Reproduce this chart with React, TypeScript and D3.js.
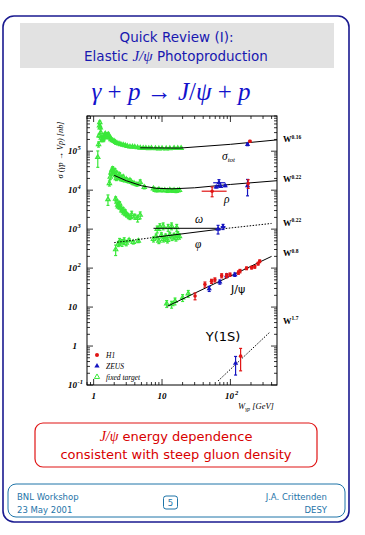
import React from 'react';
import * as d3 from 'd3';

// fixed target data: [W (GeV), sigma (nb), relative error]
const ftSigTot: [number, number, number][] = [
  [1.15, 7e4, 0.45], [1.18, 1.5e5, 0.15], [1.2, 2.5e5, 0.1], [1.22, 4.5e5, 0.08], [1.23, 5.5e5, 0.08],
  [1.25, 4.0e5, 0.08], [1.27, 3.0e5, 0.08], [1.3, 2.2e5, 0.08], [1.33, 1.9e5, 0.08], [1.36, 2.0e5, 0.08],
  [1.4, 2.2e5, 0.08], [1.44, 2.6e5, 0.08], [1.48, 2.8e5, 0.08], [1.52, 2.5e5, 0.08], [1.56, 2.3e5, 0.08],
  [1.6, 2.6e5, 0.08], [1.65, 2.7e5, 0.08], [1.7, 2.3e5, 0.08], [1.75, 2.2e5, 0.08], [1.8, 2.0e5, 0.08],
  [1.9, 1.9e5, 0.06], [2.0, 1.8e5, 0.06], [2.1, 1.7e5, 0.06], [2.2, 1.6e5, 0.06], [2.35, 1.55e5, 0.06],
  [2.5, 1.5e5, 0.06], [2.7, 1.45e5, 0.06], [2.9, 1.4e5, 0.06], [3.1, 1.35e5, 0.06], [3.4, 1.3e5, 0.06],
  [3.7, 1.3e5, 0.05], [4.0, 1.28e5, 0.05], [4.4, 1.25e5, 0.05], [4.8, 1.22e5, 0.05], [5.3, 1.2e5, 0.05],
  [5.8, 1.2e5, 0.05], [6.4, 1.18e5, 0.05], [7.0, 1.2e5, 0.05], [8, 1.18e5, 0.05], [9, 1.17e5, 0.05],
  [10, 1.18e5, 0.05], [11.5, 1.17e5, 0.05], [13, 1.18e5, 0.05], [15, 1.2e5, 0.05], [17, 1.19e5, 0.05],
  [19, 1.2e5, 0.05],
];

const ftRho: [number, number, number][] = [
  [1.62, 5.8e3, 0.3], [1.7, 1.5e4, 0.15], [1.75, 2.2e4, 0.15], [1.8, 2.8e4, 0.15], [1.85, 3.2e4, 0.15],
  [1.9, 3.5e4, 0.15], [1.95, 3.0e4, 0.12], [2.0, 2.6e4, 0.12], [2.05, 3.2e4, 0.12], [2.1, 2.4e4, 0.12],
  [2.15, 2.0e4, 0.12], [2.2, 2.7e4, 0.12], [2.3, 2.2e4, 0.12], [2.4, 2.5e4, 0.12], [2.5, 2.0e4, 0.12],
  [2.6, 1.9e4, 0.1], [2.7, 2.2e4, 0.1], [2.8, 1.8e4, 0.1], [3.0, 1.9e4, 0.1], [3.2, 1.7e4, 0.1],
  [3.4, 1.8e4, 0.1], [3.6, 1.6e4, 0.1], [3.9, 1.5e4, 0.1], [4.3, 1.4e4, 0.1], [4.8, 1.6e4, 0.15],
  [5.5, 1.2e4, 0.1], [7.5, 1.1e4, 0.08], [8.0, 1.0e4, 0.08], [8.5, 9.8e3, 0.08], [9, 1.05e4, 0.08],
  [10, 9.8e3, 0.08], [11, 1.0e4, 0.08], [12, 9.5e3, 0.08], [13, 1.02e4, 0.08], [14, 9.6e3, 0.08],
  [15, 1.0e4, 0.08], [16, 9.4e3, 0.08], [17, 9.8e3, 0.08], [18, 1.0e4, 0.08],
];

const ftOmega: [number, number, number][] = [
  [2.1, 6.0e3, 0.12], [2.2, 5.0e3, 0.12], [2.25, 4.2e3, 0.12], [2.3, 3.8e3, 0.12], [2.4, 4.5e3, 0.12],
  [2.5, 3.5e3, 0.12], [2.6, 3.0e3, 0.12], [2.7, 3.2e3, 0.12], [2.8, 2.6e3, 0.12], [2.9, 2.8e3, 0.12],
  [3.0, 2.4e3, 0.12], [3.2, 2.2e3, 0.12], [3.4, 2.0e3, 0.12], [3.6, 2.4e3, 0.2], [4.0, 2.1e3, 0.15],
  [4.4, 1.9e3, 0.2], [4.8, 2.3e3, 0.2],
  [8.5, 1.0e3, 0.2], [9.3, 1.15e3, 0.2], [10.4, 1.2e3, 0.2], [12.3, 1.1e3, 0.2], [13.8, 1.2e3, 0.2],
  [16.4, 1.1e3, 0.2],
];

const ftPhi: [number, number, number][] = [
  [2.1, 3.0e2, 0.3], [2.3, 4.2e2, 0.15], [2.4, 4.8e2, 0.2], [2.6, 4.5e2, 0.2], [2.8, 5.0e2, 0.2],
  [3.0, 4.4e2, 0.15], [3.3, 5.2e2, 0.1], [3.8, 4.6e2, 0.1], [4.5, 5.0e2, 0.1],
  [7.5, 5.5e2, 0.15], [8.2, 6.5e2, 0.15], [9, 5.0e2, 0.15], [9.8, 7.0e2, 0.15], [10.5, 5.5e2, 0.15],
  [11.3, 6.5e2, 0.15], [12, 5.2e2, 0.15], [13, 7.2e2, 0.15], [14, 6.0e2, 0.15], [15, 6.8e2, 0.15],
  [16, 5.8e2, 0.15], [17, 7.5e2, 0.15], [18, 6.5e2, 0.15],
];

const ftJpsi: [number, number, number][] = [
  [11.7, 12.2, 0.2], [13.8, 11.7, 0.2], [15.5, 14.2, 0.2], [20.0, 17.4, 0.2], [24.2, 22.2, 0.2],
];

// collider data: [W, sigma, relative error, Wlow?, Whigh?]
const h1Points: number[][] = [
  [193, 1.8e5, 0.05],
  [54, 9.4e3, 0.28, 38, 88], [182, 1.48e4, 0.25],
  [30.4, 19.2, 0.2], [42.4, 38.2, 0.15], [52.9, 46, 0.12], [59.3, 50, 0.12], [74.5, 64, 0.12],
  [88, 64, 0.12], [98.5, 68, 0.1], [131, 77, 0.1], [138, 84, 0.1], [172, 99, 0.08],
  [204, 103, 0.08], [227, 108, 0.08], [254, 130, 0.08], [268, 150, 0.08],
  [141, 0.55, 0.58],
];

const zeusPoints: number[][] = [
  [178, 1.49e5, 0.07],
  [68, 1.55e4, 0.2, 56, 84], [62, 1.2e4, 0.05], [72, 1.25e4, 0.05], [84, 1.3e4, 0.05], [178, 1.3e4, 0.45],
  [78, 1.15e3, 0.15, 72, 85], [66, 1.0e3, 0.25, 60, 74],
  [49, 29.6, 0.15], [70, 44, 0.12], [88, 64, 0.1], [116, 68, 0.1],
  [119, 0.36, 0.5],
];

// fit curves
const fitSigTot: [number, number][] = [[4.8, 1.22e5], [18, 1.2e5], [100, 1.5e5], [480, 1.95e5]];
const fitRho: [number, number][] = [[2, 2.4e4], [3, 1.75e4], [5, 1.3e4], [8, 1.12e4], [14, 1.08e4], [30, 1.15e4], [100, 1.4e4], [480, 1.75e4]];
const fitOmega: [number, number][] = [[7.5, 1.05e3], [70, 1.05e3]];
const fitPhiLow: [number, number][] = [[2.0, 4.5e2], [8, 6.2e2]];
const fitPhiMid: [number, number][] = [[8, 6.2e2], [70, 1.0e3]];
const fitPhiHigh: [number, number][] = [[70, 1.0e3], [400, 1.4e3]];
const fitJpsi: [number, number][] = [[12, 10.5], [400, 200]];
const fitUpsilon: [number, number][] = [[66, 0.127], [370, 2.2]];

const yLabels = [
  { v: 1e5, base: '10', sup: '5' }, { v: 1e4, base: '10', sup: '4' }, { v: 1e3, base: '10', sup: '3' },
  { v: 1e2, base: '10', sup: '2' }, { v: 10, base: '10', sup: '' }, { v: 1, base: '1', sup: '' },
  { v: 0.1, base: '10', sup: '-1' },
];
const xLabels = [{ v: 1, base: '1', sup: '' }, { v: 10, base: '10', sup: '' }, { v: 100, base: '10', sup: '2' }];
const powerLabels = [
  { v: 2.0e5, text: '0.16' }, { v: 1.9e4, text: '0.22' }, { v: 1.45e3, text: '0.22' },
  { v: 2.4e2, text: '0.8' }, { v: 4.5, text: '1.7' },
];

const GREEN = '#3be83b';
const RED = '#e01414';
const BLUE = '#1414c0';
const NAVY = '#1a1a90';
const TITLE = '#1818b0';
const TEAL = '#1e74a8';

export default function App() {
  const x = d3.scaleLog().domain([0.8, 480]).range([87, 277]);
  const y = d3.scaleLog().domain([0.1, 8e5]).range([385, 116]);
  const line = d3.line<[number, number]>().x(d => x(d[0])).y(d => y(d[1]));
  const isMajor = (v: number) => Math.abs(Math.log10(v) - Math.round(Math.log10(v))) < 1e-6;
  const [x0, x1] = x.range();
  const [y0, y1] = y.range();
  const tri = d3.symbol(d3.symbolTriangle, 8)();
  const triBig = d3.symbol(d3.symbolTriangle, 12)();

  const ftGroup = (data: [number, number, number][], key: string) =>
    data.map((d, i) => {
      const cx = x(d[0]);
      const cy = y(d[1]);
      const ya = y(d[1] * (1 + d[2]));
      const yb = y(Math.max(d[1] * (1 - d[2]), 1e-3));
      return (
        <g key={key + i} stroke={GREEN} fill="none" strokeWidth={1.2}>
          <line x1={cx} x2={cx} y1={ya} y2={yb} />
          <line x1={cx - 1.5} x2={cx + 1.5} y1={ya} y2={ya} />
          <line x1={cx - 1.5} x2={cx + 1.5} y1={yb} y2={yb} />
          <path d={tri!} transform={`translate(${cx},${cy})`} />
        </g>
      );
    });

  const colliderGroup = (data: number[][], color: string, kind: string) =>
    data.map((d, i) => {
      const cx = x(d[0]);
      const cy = y(d[1]);
      const ya = y(d[1] * (1 + d[2]));
      const yb = y(Math.max(d[1] * (1 - d[2]), 1e-3));
      return (
        <g key={kind + i} stroke={color} strokeWidth={1.2}>
          <line x1={cx} x2={cx} y1={ya} y2={yb} />
          <line x1={cx - 1.5} x2={cx + 1.5} y1={ya} y2={ya} />
          <line x1={cx - 1.5} x2={cx + 1.5} y1={yb} y2={yb} />
          {d.length > 3 && <line x1={x(d[3])} x2={x(d[4])} y1={cy} y2={cy} />}
          {kind === 'h1' ? (
            <circle cx={cx} cy={cy} r={1.8} fill={color} stroke="none" />
          ) : (
            <path d={triBig!} transform={`translate(${cx},${cy})`} fill={color} stroke="none" />
          )}
        </g>
      );
    });

  const tickFont = { fontFamily: 'Liberation Serif', fontStyle: 'italic' as const, fontWeight: 700 };

  return (
    <svg width={365} height={535} style={{ position: 'absolute', left: 0, top: 0, background: '#fff' }}>
      {/* slide frame */}
      <rect x={3} y={16} width={346} height={506} rx={11} fill="none" stroke={NAVY} strokeWidth={1.6} />
      <rect x={20} y={23} width={314} height={45} fill="#e2e2e2" />
      <text x={176.5} y={42} textAnchor="middle" fill={TITLE} fontFamily="DejaVu Sans" fontSize={13.5}>
        Quick Review (I):
      </text>
      <text x={176} y={61} textAnchor="middle" fill={TITLE} fontFamily="DejaVu Sans" fontSize={13.5}>
        Elastic <tspan fontFamily="Liberation Serif" fontStyle="italic" fontSize={15}>J/ψ</tspan> Photoproduction
      </text>
      <text x={171} y={100} textAnchor="middle" fill="#1212cc" fontFamily="Liberation Serif" fontSize={25}>
        <tspan fontStyle="italic">γ</tspan> + <tspan fontStyle="italic">p</tspan> → <tspan fontStyle="italic">J</tspan>/<tspan fontStyle="italic">ψ</tspan> + <tspan fontStyle="italic">p</tspan>
      </text>

      {/* plot frame and ticks */}
      <rect x={x0} y={y1} width={x1 - x0} height={y0 - y1} fill="none" stroke="#000" strokeWidth={1} />
      {x.ticks().map((t, i) => {
        const len = isMajor(t) ? 6 : 3;
        return (
          <g key={'xt' + i} stroke="#000" strokeWidth={0.8}>
            <line x1={x(t)} x2={x(t)} y1={y0} y2={y0 - len} />
            <line x1={x(t)} x2={x(t)} y1={y1} y2={y1 + len} />
          </g>
        );
      })}
      {y.ticks().map((t, i) => {
        const len = isMajor(t) ? 6 : 3;
        return (
          <g key={'yt' + i} stroke="#000" strokeWidth={0.8}>
            <line x1={x0} x2={x0 + len} y1={y(t)} y2={y(t)} />
            <line x1={x1} x2={x1 - len} y1={y(t)} y2={y(t)} />
          </g>
        );
      })}
      {yLabels.map((l, i) => (
        <g key={'yl' + i} {...tickFont} fontSize={9} fill="#000">
          <text x={77} y={y(l.v) + 3} textAnchor="end">{l.base}</text>
          {l.sup && <text x={77.5} y={y(l.v) - 1.5} fontSize={6.5}>{l.sup}</text>}
        </g>
      ))}
      {xLabels.map((l, i) => (
        <g key={'xl' + i} {...tickFont} fontSize={9} fill="#000">
          <text x={x(l.v) + (l.sup ? -1 : 0)} y={399} textAnchor="middle">{l.base}</text>
          {l.sup && <text x={x(l.v) + 4.5} y={395} fontSize={6.5}>{l.sup}</text>}
        </g>
      ))}
      <text transform="translate(63,150) rotate(-90)" textAnchor="middle" {...tickFont} fontWeight={400} fontSize={8.2}>
        σ (γp → Vp) [nb]
      </text>
      <text x={256} y={409} textAnchor="middle" {...tickFont} fontWeight={400} fontSize={8.5}>
        W<tspan fontSize={5.5} dy={2}>γp</tspan><tspan dy={-2}>  [GeV]</tspan>
      </text>
      {powerLabels.map((p, i) => (
        <text key={'pw' + i} x={283} y={y(p.v) + 3} fontFamily="Liberation Serif" fontWeight={700} fontSize={8.5} fill="#000">
          W<tspan fontSize={5.5} dy={-3.5}>{p.text}</tspan>
        </text>
      ))}

      {/* fixed target data */}
      {ftGroup(ftSigTot, 'st')}
      {ftGroup(ftRho, 'rh')}
      {ftGroup(ftOmega, 'om')}
      {ftGroup(ftPhi, 'ph')}
      {ftGroup(ftJpsi, 'jp')}

      {/* fit curves */}
      <g fill="none" stroke="#000" strokeWidth={1}>
        <path d={line(fitSigTot)!} />
        <path d={line(fitRho)!} />
        <path d={line(fitOmega)!} />
        <path d={line(fitPhiLow)!} strokeDasharray="1.5,1.5" />
        <path d={line(fitPhiMid)!} />
        <path d={line(fitPhiHigh)!} strokeDasharray="1.5,1.5" />
        <path d={line(fitJpsi)!} />
        <path d={line(fitUpsilon)!} strokeDasharray="1.5,1.5" />
      </g>

      {colliderGroup(zeusPoints, BLUE, 'zeus')}
      {colliderGroup(h1Points, RED, 'h1')}

      {/* curve labels */}
      <text x={222} y={160} fontFamily="Liberation Serif" fontStyle="italic" fontSize={11.5}>
        σ<tspan fontSize={7} dy={2}>tot</tspan>
      </text>
      <text x={224} y={203} fontFamily="Liberation Serif" fontStyle="italic" fontSize={11.5}>ρ</text>
      <text x={195} y={223} fontFamily="Liberation Serif" fontStyle="italic" fontSize={11.5}>ω</text>
      <text x={195} y={248} fontFamily="Liberation Serif" fontStyle="italic" fontSize={11.5}>φ</text>
      <text x={231} y={293} fontFamily="DejaVu Sans" fontSize={11}>J/ψ</text>
      <text x={223} y={341} textAnchor="middle" fontFamily="DejaVu Sans" fontSize={13}>Υ(1S)</text>

      {/* legend */}
      <circle cx={97} cy={355} r={2} fill={RED} />
      <path d={triBig!} transform="translate(97,366)" fill={BLUE} />
      <path d={triBig!} transform="translate(97,377)" fill="none" stroke={GREEN} strokeWidth={1} />
      <g {...tickFont} fontWeight={400} fontSize={7.5}>
        <text x={106} y={357.5}>H1</text>
        <text x={106} y={368.5}>ZEUS</text>
        <text x={106} y={379.5}>fixed target</text>
      </g>

      {/* conclusion box */}
      <rect x={35} y={423} width={282} height={44} rx={8} fill="none" stroke={RED} strokeWidth={1.2} />
      <text x={176} y={440.5} textAnchor="middle" fill="#d80000" fontFamily="DejaVu Sans" fontSize={13}>
        <tspan fontFamily="Liberation Serif" fontStyle="italic" fontSize={14}>J/ψ</tspan> energy dependence
      </text>
      <text x={176} y={459} textAnchor="middle" fill="#d80000" fontFamily="DejaVu Sans" fontSize={13}>
        consistent with steep gluon density
      </text>

      {/* footer */}
      <rect x={8} y={484} width={337} height={33} rx={8} fill="none" stroke={TEAL} strokeWidth={1} />
      <g fill={TEAL} fontFamily="DejaVu Sans" fontSize={8.5}>
        <text x={17} y={500}>BNL Workshop</text>
        <text x={17} y={512.5}>23 May 2001</text>
        <text x={327} y={500} textAnchor="end">J.A. Crittenden</text>
        <text x={327} y={512.5} textAnchor="end">DESY</text>
        <rect x={163.5} y={496} width={14} height={13} rx={2.5} fill="none" stroke={TEAL} strokeWidth={1} />
        <text x={170.5} y={506} textAnchor="middle">5</text>
      </g>
    </svg>
  );
}
